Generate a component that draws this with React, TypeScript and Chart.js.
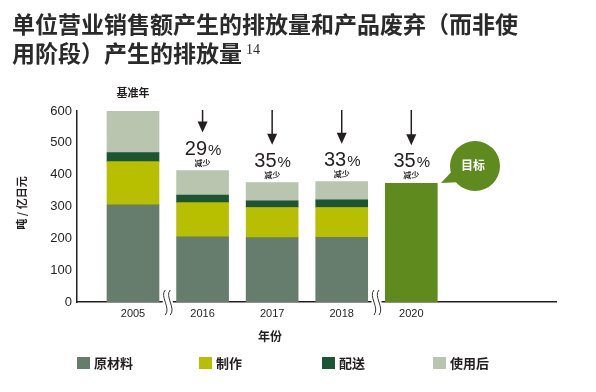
import React, { useEffect, useRef } from "react";
import { Chart, registerables } from "chart.js";

Chart.register(...registerables);

const years = ["2005", "2016", "2017", "2018", "2020"];
const rawMaterial = [305, 205, 202, 203];
const manufacturing = [136, 107, 95, 94];
const distribution = [28, 24, 21, 24];
const afterUse = [131, 77, 57, 57];
const target2020 = 373;
const reductions = ["", "29", "35", "33", "35"];
const seriesNames = ["原材料", "制作", "配送", "使用后"];
const seriesColors = ["#667c6c", "#b8bf00", "#1b5533", "#b9c5ae"];
const targetColor = "#5e8a1e";

const CJK = '"Noto Sans CJK SC", "Noto Sans", sans-serif';
const LAT = '"Liberation Sans", Arial, sans-serif';

const annotations = {
  id: "annotations",
  afterDraw(chart: any) {
    const ctx = chart.ctx;
    const xs = chart.scales.x;
    const ys = chart.scales.y;
    const area = chart.chartArea;
    ctx.save();

    // break marks on x axis
    const breaks = [0.5, 3.5];
    breaks.forEach((b) => {
      const bx = xs.getPixelForValue(b);
      const by = area.bottom;
      ctx.fillStyle = "#fff";
      ctx.fillRect(bx - 5, by - 3, 10, 6);
      ctx.strokeStyle = "#333";
      ctx.lineWidth = 1;
      [-2.5, 2.5].forEach((o) => {
        ctx.beginPath();
        ctx.moveTo(bx + o, by - 12);
        ctx.bezierCurveTo(bx + o - 6, by - 6, bx + o + 6, by + 6, bx + o, by + 13);
        ctx.stroke();
      });
    });

    // totals
    const totals = rawMaterial.map(
      (v, i) => v + manufacturing[i] + distribution[i] + afterUse[i]
    );
    totals.push(target2020);

    ctx.fillStyle = "#231f20";
    ctx.textAlign = "center";
    ctx.textBaseline = "middle";
    ctx.font = `bold 11px ${CJK}`;
    ctx.fillText("基准年", xs.getPixelForValue(0), 93);

    for (let i = 1; i < years.length; i++) {
      const cx = xs.getPixelForValue(i);
      const top = ys.getPixelForValue(totals[i]);
      // 减少
      ctx.font = `bold 8px ${CJK}`;
      ctx.fillStyle = "#231f20";
      ctx.fillText("减少", cx, top - 8);
      // percent
      const num = reductions[i];
      ctx.font = `20px ${LAT}`;
      const nw = ctx.measureText(num).width;
      ctx.font = `15px ${LAT}`;
      const pw = ctx.measureText("%").width;
      const sx = cx - (nw + pw) / 2;
      ctx.textAlign = "left";
      ctx.textBaseline = "alphabetic";
      ctx.font = `20px ${LAT}`;
      ctx.fillText(num, sx, top - 16);
      ctx.font = `15px ${LAT}`;
      ctx.fillText("%", sx + nw + 1, top - 16);
      ctx.textAlign = "center";
      ctx.textBaseline = "middle";
      // arrow
      const tip = top - 38;
      ctx.strokeStyle = "#231f20";
      ctx.lineWidth = 1.5;
      ctx.beginPath();
      ctx.moveTo(cx, 110);
      ctx.lineTo(cx, tip - 8);
      ctx.stroke();
      ctx.beginPath();
      ctx.moveTo(cx - 5, tip - 11);
      ctx.lineTo(cx + 5, tip - 11);
      ctx.lineTo(cx, tip);
      ctx.closePath();
      ctx.fill();
    }

    // target bubble
    const bx = 475;
    const by = 166;
    ctx.fillStyle = targetColor;
    ctx.beginPath();
    ctx.arc(bx, by, 25, 0, Math.PI * 2);
    ctx.fill();
    ctx.beginPath();
    ctx.moveTo(bx - 20, by + 2);
    ctx.lineTo(441, 183);
    ctx.lineTo(bx - 12, by + 16);
    ctx.closePath();
    ctx.fill();
    ctx.fillStyle = "#fff";
    ctx.font = `bold 12px ${CJK}`;
    ctx.fillText("目标", bx - 2, by - 1);

    // axis titles
    ctx.fillStyle = "#231f20";
    ctx.font = `bold 12px ${CJK}`;
    ctx.fillText("年份", 270, 336);
    ctx.save();
    ctx.translate(22, 203);
    ctx.rotate(-Math.PI / 2);
    ctx.font = `bold 11px ${CJK}`;
    ctx.fillText("吨 / 亿日元", 0, 0);
    ctx.restore();

    // legend
    const lx = [77, 199, 322, 433];
    seriesNames.forEach((n, i) => {
      ctx.fillStyle = seriesColors[i];
      ctx.fillRect(lx[i], 357, 13, 12);
      ctx.fillStyle = "#231f20";
      ctx.font = `bold 13px ${CJK}`;
      ctx.textAlign = "left";
      ctx.fillText(n, lx[i] + 17, 363.5);
    });

    ctx.restore();
  },
};

export default function App() {
  const ref = useRef<HTMLCanvasElement | null>(null);
  useEffect(() => {
    if (!ref.current) return;
    const mk = (arr: number[]) => arr.map((v, i) => ({ x: i, y: v }));
    const chart = new Chart(ref.current, {
      type: "bar",
      data: {
        datasets: [
          ...[rawMaterial, manufacturing, distribution, afterUse].map((arr, i) => ({
            label: seriesNames[i],
            data: mk(arr),
            backgroundColor: seriesColors[i],
            barThickness: 52,
            borderWidth: 0,
          })),
          {
            label: "目标",
            data: [{ x: 4, y: target2020 }],
            backgroundColor: targetColor,
            barThickness: 52,
            borderWidth: 0,
          },
        ],
      },
      options: {
        animation: false,
        responsive: false,
        layout: { padding: { left: 0, top: 111, right: 40, bottom: 70 } },
        plugins: { legend: { display: false }, tooltip: { enabled: false } },
        scales: {
          x: {
            type: "linear",
            min: -0.805,
            max: 6.08,
            offset: false,
            stacked: true,
            grid: { display: false, drawTicks: false, offset: false },
            border: { display: true, color: "#231f20", width: 1.5 },
            afterBuildTicks: (s: any) => {
              s.ticks = [0, 1, 2, 3, 4].map((v) => ({ value: v }));
            },
            afterFit: (s: any) => {
              s.height = 20;
            },
            ticks: {
              autoSkip: false,
              maxRotation: 0,
              padding: 5,
              color: "#231f20",
              font: { family: LAT, size: 11 },
              callback: (v: any) => years[v as number] ?? "",
            },
          },
          y: {
            min: 0,
            max: 600,
            stacked: true,
            grid: { display: false, drawTicks: false },
            border: { display: true, color: "#231f20", width: 1.5 },
            afterFit: (s: any) => {
              s.width = 77;
            },
            ticks: {
              stepSize: 100,
              padding: 5,
              color: "#231f20",
              font: { family: LAT, size: 13 },
            },
          },
        },
      },
      plugins: [annotations],
    } as any);
    return () => chart.destroy();
  }, []);

  return (
    <div style={{ position: "fixed", left: 0, top: 0, width: 596, height: 392, background: "#fff" }}>
      <canvas ref={ref} width={596} height={392} style={{ display: "block" }} />
      <div
        style={{
          position: "absolute",
          left: 12,
          top: 9,
          fontFamily: CJK,
          fontWeight: 700,
          fontSize: 23,
          lineHeight: "29px",
          letterSpacing: "0px",
          color: "#2a2a2a",
          whiteSpace: "nowrap",
        }}
      >
        单位营业销售额产生的排放量和产品废弃（而非使
        <br />
        用阶段）产生的排放量
        <span style={{ fontSize: 14, fontWeight: 400, letterSpacing: 0, fontFamily: '"Liberation Serif", serif', verticalAlign: "top", position: "relative", top: -3, marginLeft: 4 }}>14</span>
      </div>
    </div>
  );
}
